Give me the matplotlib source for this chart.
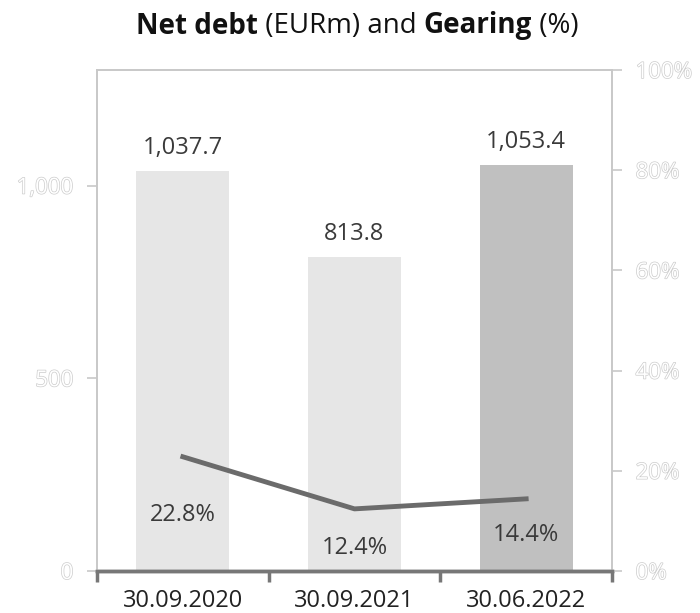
import matplotlib.pyplot as plt
import matplotlib.patheffects as pe

plt.rcParams['font.family'] = ['Open Sans', 'DejaVu Sans']

# data
dates = ['30.09.2020', '30.09.2021', '30.06.2022']
net_debt = [1037.7, 813.8, 1053.4]
gearing = [22.8, 12.4, 14.4]
debt_labels = ['1,037.7', '813.8', '1,053.4']
gear_labels = ['22.8%', '12.4%', '14.4%']
bar_colors = ['#e6e6e6', '#e6e6e6', '#c0c0c0']

fig = plt.figure(figsize=(7, 6.13), dpi=100)
ax = fig.add_axes([97/700, 42/613, 515/700, 501/613])
ax2 = ax.twinx()

x = list(range(len(dates)))
ax.bar(x, net_debt, width=0.54, color=bar_colors, zorder=2)
for xi, v, lab in zip(x, net_debt, debt_labels):
    ax.annotate(lab, (xi, v), xytext=(0, 8), textcoords='offset points',
                ha='center', va='bottom', fontsize=17, color='#3a3a3a')

ax.set_xlim(-0.5, 2.5)
ax.set_ylim(0, 1300)
ax.set_yticks([0, 500, 1000])
ax.set_yticklabels(['0', '500', '1,000'])

ax2.set_ylim(0, 100)
ax2.set_yticks([0, 20, 40, 60, 80, 100])
ax2.set_yticklabels(['0%', '20%', '40%', '60%', '80%', '100%'])
ax2.plot(x, gearing, color='#6b6b6b', lw=3.5, zorder=3)
offsets = [-42, -28, -26]
for xi, v, lab, off in zip(x, gearing, gear_labels, offsets):
    ax2.annotate(lab, (xi, v), xytext=(0, off), textcoords='offset points',
                 ha='center', va='center', fontsize=17, color='#3a3a3a')

# hollow (outlined) tick labels
outline = [pe.withStroke(linewidth=1.0, foreground='#cccccc')]
for a in (ax, ax2):
    for s in a.spines.values():
        s.set_color('#c8c8c8')
        s.set_linewidth(1.2)
    a.spines['bottom'].set_color('#777777')
    a.spines['bottom'].set_linewidth(2.5)
    a.tick_params(axis='y', colors='#c8c8c8', length=7, width=1.2, labelsize=16, pad=10)
    for t in a.get_yticklabels():
        t.set_color('white')
        t.set_path_effects(outline)

ax.set_xticks([-0.5, 0.5, 1.5, 2.5])
ax.set_xticklabels([])
ax.set_xticks(x, minor=True)
ax.set_xticklabels(dates, minor=True, fontsize=17, color='#222222')
ax.tick_params(axis='x', which='major', length=8, width=2.5, color='#777777')
ax.tick_params(axis='x', which='minor', length=0, pad=13)

# mixed-weight title
parts = [('Net debt', 'bold'), (' (EURm) and ', 'normal'), ('Gearing', 'bold'), (' (%)', 'normal')]
fig.canvas.draw()
r = fig.canvas.get_renderer()
texts = []
total = 0
for s, w in parts:
    t = fig.text(0, 1 - 26/613, s, fontsize=20, fontweight=w, color='#111111', va='center', ha='left')
    wpx = t.get_window_extent(r).width
    texts.append((t, wpx))
    total += wpx
cur = 357 - total / 2
for t, wpx in texts:
    t.set_x(cur / 700)
    cur += wpx

fig.savefig('out.png', dpi=100)
